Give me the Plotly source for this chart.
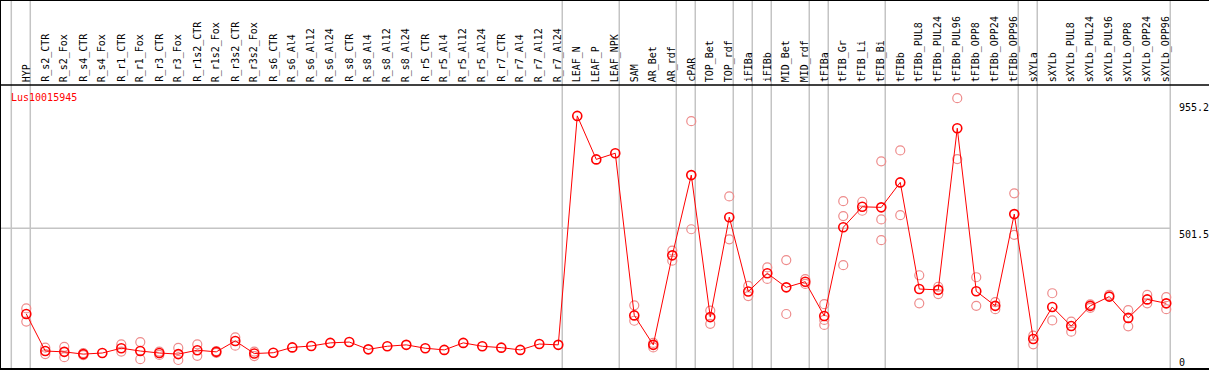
import plotly.graph_objects as go

categories = ["HYP", "R_s2_CTR", "R_s2_Fox", "R_s4_CTR", "R_s4_Fox", "R_r1_CTR", "R_r1_Fox",
              "R_r3_CTR", "R_r3_Fox", "R_r1s2_CTR", "R_r1s2_Fox", "R_r3s2_CTR", "R_r3s2_Fox",
              "R_s6_CTR", "R_s6_Al4", "R_s6_Al12", "R_s6_Al24", "R_s8_CTR", "R_s8_Al4", "R_s8_Al12",
              "R_s8_Al24", "R_r5_CTR", "R_r5_Al4", "R_r5_Al12", "R_r5_Al24", "R_r7_CTR", "R_r7_Al4",
              "R_r7_Al12", "R_r7_Al24", "LEAF_N", "LEAF_P", "LEAF_NPK", "SAM", "AR_Bet", "AR_rdf",
              "cPAR", "TOP_Bet", "TOP_rdf", "iFIBa", "iFIBb", "MID_Bet", "MID_rdf", "tFIBa",
              "tFIB_Gr", "tFIB_Li", "tFIB_Bi", "tFIBb", "tFIBb_PUL8", "tFIBb_PUL24", "tFIBb_PUL96",
              "tFIBb_OPP8", "tFIBb_OPP24", "tFIBb_OPP96", "sXYLa", "sXYLb", "sXYLb_PUL8",
              "sXYLb_PUL24", "sXYLb_PUL96", "sXYLb_OPP8", "sXYLb_OPP24", "sXYLb_OPP96"]

mean_values = [196, 64, 61, 53, 57, 74, 64, 57, 53, 67, 61, 100, 55,
               58, 77, 82, 93, 96, 70, 81, 86, 74, 68, 93, 81, 76, 68, 89, 86,
               902, 747, 769, 191, 86, 405, 691, 185, 541, 276, 341, 291, 311, 189,
               505, 578, 576, 665, 285, 282, 858, 277, 225, 552, 107, 221, 153,
               225, 258, 182, 248, 234]

rep_1 = [216, 76, 79, 49, None, 88, 96, 62, 75, 88, 64, 113, 62,
         None, None, None, None, None, None, None, None, None, None, None, None, None, None, None, None,
         None, None, None, 227, 77, 422, 883, 208, 615, 296, 362, 388, 320, 231,
         598, 596, 740, 779, 334, 293, 965, 327, 238, 626, 119, 270, 169,
         230, 264, 210, 264, 256]
rep_2 = [169, 53, 42, 57, None, 62, 35, 50, 32, 47, 57, 83, 46,
         None, None, None, None, None, None, None, None, None, None, None, None, None, None, None, None,
         None, None, None, 172, 93, 386, 498, 161, 462, 260, 321, 196, 303, 157,
         545, 564, 533, 548, 234, 267, 748, 225, 213, 478, 88, 173, 133,
         218, None, 152, 234, 213]
rep_3 = [None] * 42 + [175, 370, None, 459] + [None] * 15

group_ends = [-1, 0, 28, 31, 34, 35, 37, 38, 39, 41, 42, 45, 52, 53, 60]
axis_labels = [0, 501.5, 955.2]
axis_label_text = ["0", "501.5", "955.2"]
gene_name = "Lus10015945"

x_idx = list(range(len(categories)))
FONT = "DejaVu Sans Mono"

fig = go.Figure()

rep_color = "rgb(238,140,140)"
for reps in (rep_1, rep_2, rep_3):
    fig.add_trace(go.Scatter(
        x=x_idx, y=reps, mode="markers",
        marker=dict(symbol="circle-open", size=9, color=rep_color, line=dict(width=1.2, color=rep_color)),
        showlegend=False, hoverinfo="skip"))

fig.add_trace(go.Scatter(
    x=x_idx, y=mean_values, mode="lines+markers",
    line=dict(color="#ff0000", width=1),
    marker=dict(symbol="circle-open", size=9, color="#ff0000", line=dict(width=1.6, color="#ff0000")),
    showlegend=False))

shapes = []
for g in group_ends:
    shapes.append(dict(type="line", xref="x", yref="paper", x0=g + 0.21, x1=g + 0.21, y0=0, y1=1,
                       line=dict(color="#c4c4c4", width=1.5), layer="below"))
shapes.append(dict(type="line", xref="paper", yref="y", x0=0, x1=1170.5 / 1209, y0=axis_labels[1], y1=axis_labels[1],
                   line=dict(color="#c4c4c4", width=1.5), layer="below"))
header_y = 1012
shapes.append(dict(type="line", xref="paper", yref="y", x0=0, x1=1, y0=header_y, y1=header_y,
                   line=dict(color="black", width=1.5)))
shapes.append(dict(type="line", xref="paper", yref="y", x0=0, x1=1, y0=0, y1=0,
                   line=dict(color="black", width=2)))
shapes.append(dict(type="line", xref="paper", yref="paper", x0=0, x1=1, y0=1, y1=1,
                   line=dict(color="black", width=2)))
shapes.append(dict(type="line", xref="paper", yref="paper", x0=0, x1=0, y0=0, y1=1,
                   line=dict(color="black", width=2)))

annotations = []
for i, c in enumerate(categories):
    annotations.append(dict(x=i, y=1019, xref="x", yref="y", text=c, textangle=-90,
                            xanchor="center", yanchor="bottom", showarrow=False,
                            font=dict(family=FONT, size=10, color="black"), borderpad=0))

annotations.append(dict(x=10 / 1209, y=969, xref="paper", yref="y", text=gene_name,
                        xanchor="left", yanchor="middle", showarrow=False,
                        font=dict(family=FONT, size=10, color="#ff0000"), borderpad=0))

for v, t in zip(axis_labels, axis_label_text):
    annotations.append(dict(x=1178 / 1209, y=v, xref="paper", yref="y", text=t,
                            xanchor="left", yanchor="bottom" if v == 0 else "top", showarrow=False,
                            font=dict(family=FONT, size=10, color="black"), borderpad=0))

fig.update_layout(
    width=1209, height=370,
    margin=dict(l=0, r=0, t=0, b=0, pad=0),
    paper_bgcolor="white", plot_bgcolor="white",
    xaxis=dict(range=[-1.384, 62.25], visible=False, fixedrange=True),
    yaxis=dict(range=[-3.6, 1315], visible=False, fixedrange=True),
    shapes=shapes, annotations=annotations,
    hovermode=False,
)

fig.write_html("out.html", config={"displayModeBar": False},
               post_script="document.body.style.margin='0';document.body.style.overflow='hidden';")
